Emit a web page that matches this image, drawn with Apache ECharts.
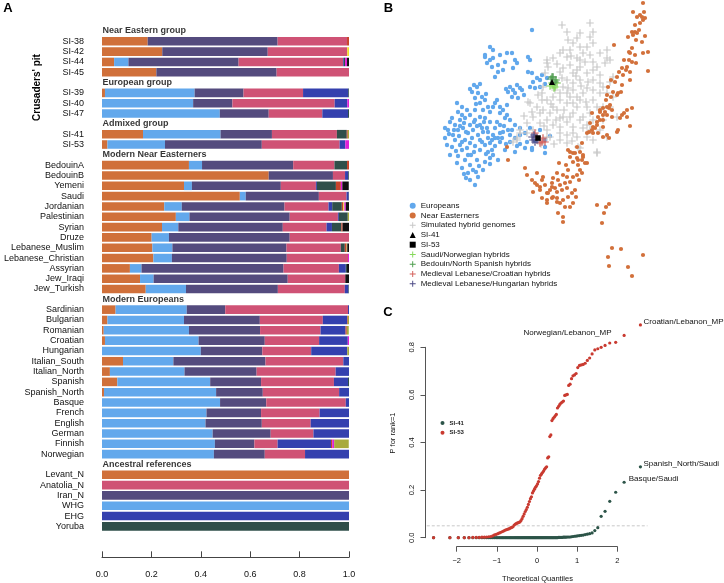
<!DOCTYPE html>
<html>
<head>
<meta charset="utf-8">
<script src="https://cdn.jsdelivr.net/npm/echarts@6/dist/echarts.min.js"></script>
<style>
html, body { margin: 0; padding: 0; background: #fff; }
#main { width: 724px; height: 583px; }
</style>
</head>
<body>
<div id="main"></div>
<script>
// ---------- A: ancestry proportions ----------
const groupTitles = ['Near Eastern group', 'European group', 'Admixed group',
  'Modern Near Easterners', 'Modern Europeans', 'Ancestral references'];
const groupRows = [
  ['SI-38', 'SI-42', 'SI-44', 'SI-45'],
  ['SI-39', 'SI-40', 'SI-47'],
  ['SI-41', 'SI-53'],
  ['BedouinA', 'BedouinB', 'Yemeni', 'Saudi', 'Jordanian', 'Palestinian', 'Syrian', 'Druze',
   'Lebanese_Muslim', 'Lebanese_Christian', 'Assyrian', 'Jew_Iraqi', 'Jew_Turkish'],
  ['Sardinian', 'Bulgarian', 'Romanian', 'Croatian', 'Hungarian', 'Italian_South', 'Italian_North',
   'Spanish', 'Spanish_North', 'Basque', 'French', 'English', 'German', 'Finnish', 'Norwegian'],
  ['Levant_N', 'Anatolia_N', 'Iran_N', 'WHG', 'EHG', 'Yoruba']
];
const components = ['Levant_N', 'WHG', 'Iran_N', 'Anatolia_N', 'EHG', 'Yoruba', 'k7', 'k8', 'k9', 'k10', 'k11'];
const componentColors = ['#D0703A', '#62A8EC', '#544B7E', '#CF5275', '#3440AE', '#2F4F4A',
  '#C8442C', '#F0E12A', '#E020D8', '#A8AA3C', '#111111'];

// one value per sample row, same order as groupRows flattened
const levantN   = [0.185,0.244,0.049,0.220, 0.012,0,0, 0.166,0.022,
  0.352,0.675,0.332,0.558,0.252,0.299,0.243,0.201,0.204,0.208,0.113,0.154,0.177,
  0.055,0.022,0.007,0.012,0,0.085,0.032,0.062,0.008,0,0,0,0,0,0,
  1,0,0,0,0,0];
const whg       = [0,0,0.058,0, 0.363,0.369,0.477, 0.314,0.233,
  0.053,0,0.032,0.024,0.071,0.055,0.066,0.070,0.081,0.075,0.047,0.055,0.163,
  0.288,0.310,0.345,0.379,0.400,0.204,0.302,0.376,0.454,0.478,0.423,0.419,0.448,0.457,0.453,
  0,0,0,1,0,0];
const iranN     = [0.526,0.427,0.446,0.487, 0.198,0.159,0.198, 0.208,0.392,
  0.369,0.260,0.360,0.296,0.416,0.406,0.423,0.489,0.462,0.465,0.575,0.543,0.372,
  0.156,0.307,0.288,0.268,0.249,0.373,0.292,0.206,0.189,0.187,0.221,0.228,0.235,0.160,0.206,
  0,0,1,0,0,0];
const anatoliaN = [0.281,0.322,0.423,0.293, 0.241,0.414,0.217, 0.263,0.315,
  0.167,0.049,0.142,0.112,0.178,0.195,0.177,0.240,0.220,0.248,0.224,0.233,0.271,
  0.497,0.255,0.245,0.220,0.198,0.315,0.320,0.295,0.309,0.322,0.237,0.198,0.173,0.094,0.163,
  0,1,0,0,0,0];
const ehg       = [0,0,0.003,0, 0.183,0.051,0.104, 0,0.023,
  0,0.013,0.004,0.009,0.015,0.004,0.022,0,0,0,0.028,0,0.015,
  0.004,0.098,0.101,0.116,0.146,0.023,0.054,0.057,0.040,0.013,0.119,0.155,0.144,0.216,0.178,
  0,0,0,0,1,0];
const yoruba    = [0,0,0.005,0, 0.003,0,0.004, 0.040,0,
  0.051,0.003,0.077,0.001,0.039,0.036,0.038,0,0.016,0,0.005,0,0.002,
  0,0,0,0,0,0,0,0.004,0,0,0,0,0,0,0,
  0,0,0,0,0,1];
const k7        = [0.008,0,0,0, 0,0,0, 0.004,0,
  0.008,0,0.020,0,0.006,0,0.005,0,0.007,0,0,0,0,
  0,0.003,0.005,0,0,0,0,0,0,0,0,0,0,0.005,0,
  0,0,0,0,0,0];
const k8        = [0,0.007,0,0, 0,0,0, 0,0,
  0,0,0,0,0.004,0,0,0,0,0,0,0,0,
  0,0,0,0,0,0,0,0,0,0,0,0,0,0,0,
  0,0,0,0,0,0];
const k9        = [0,0,0.008,0, 0,0.007,0, 0,0.015,
  0,0,0.006,0,0.006,0,0,0,0,0.004,0,0,0,
  0,0,0,0.005,0,0,0,0,0,0,0,0,0,0.008,0,
  0,0,0,0,0,0];
const k10       = [0,0,0,0, 0,0,0, 0.005,0,
  0,0,0,0,0,0.005,0,0,0.003,0,0,0,0,
  0,0.005,0.008,0,0.007,0,0,0,0,0,0,0,0,0.059,0,
  0,0,0,0,0,0];
const k11       = [0,0,0.008,0, 0,0,0, 0,0,
  0,0,0.026,0,0.013,0,0.026,0,0.007,0,0.008,0.015,0,
  0,0,0,0,0,0,0,0,0,0,0,0,0,0,0,
  0,0,0,0,0,0];

// ---------- B: PCA-like projection (PC1, PC2 x1000) ----------
const europeans = [[-18,120],[-60,103],[-57,100],[-65,93],[-60,90],[-63,87],[-57,92],[-43,97],[-38,97],[-45,88],
  [-35,90],[-33,87],[-52,85],[-47,80],[-37,82],[-52,78],[-58,83],[-55,73],[-65,95],[-50,95],
  [-22,93],[-20,90],[-22,78],[-18,77],[-13,72],[-10,70],[-8,75],[-3,72],[-17,68],[-20,63],[-15,62],[-10,63],[-5,66],
  [-40,63],[-37,60],[-33,65],[-30,62],[-35,57],[-38,53],[-32,52],[-28,60],[-42,58],[-26,55],[-44,61],
  [-80,61],[-73,63],[-72,57],[-75,52],[-68,53],[-70,47],[-65,50],[-62,43],[-57,43],[-53,50],[-50,43],[-47,40],
  [-43,45],[-67,40],[-60,38],[-43,35],[-93,47],[-88,43],[-83,40],[-78,58],[-76,65],[-64,56],[-55,47],[-50,37],
  [-70,66],[-74,46],
  [-100,28],[-95,25],[-90,30],[-85,32],[-80,35],[-75,30],[-70,25],[-65,32],[-60,28],[-55,22],[-50,25],[-45,32],
  [-40,30],[-35,25],[-30,22],[-102,20],[-97,15],[-92,20],[-87,22],[-82,17],[-77,20],[-72,15],[-67,18],[-62,12],
  [-57,15],[-52,12],[-47,18],[-42,20],[-35,12],[-25,17],[-20,22],[-15,15],[-95,10],[-90,5],[-85,10],[-80,7],
  [-75,4],[-70,10],[-65,5],[-60,7],[-55,4],[-50,8],[-40,8],[-30,6],[-23,8],[-15,9],[-5,3],[-10,20],[-98,3],
  [-88,0],[-82,-5],[-76,-2],[-70,0],[-64,-4],[-58,0],[-45,0],[-35,-2],[-18,0],[-5,10],[0,14],[-105,12],[-103,5],
  [-92,-6],[-85,-10],[-80,-15],[-73,-10],[-65,-12],[-88,-18],[-82,-23],[-77,-20],[-93,-13],[-67,-20],[-60,-8],
  [-80,-30],[-75,-35],[-84,-28],[-72,-27],[-52,-10],[-88,35],[-80,25],[-18,2],[-5,-3],
  [-98,32],[-92,38],[-75,40],[-68,22],[-63,22],[-78,12],[-83,2],[-57,-5],[-50,17],[-40,15],[-105,22],[-100,-5],
  [-30,15],[-25,2],[-96,20],[-91,14],[-86,27],[-73,24],[-68,8],[-62,18],[-58,10],[-53,28],[-48,12],[-44,6],
  [-38,20],[-33,4],[-88,8],[-79,-5],[-71,-16],[-62,-2],[-55,12],[-46,24],[-101,16],[-94,-1],[-84,18],[-76,28],
  [-66,28],[-60,-14],[-86,-24],[-74,-22],[-70,33],[-90,24]];
const nearEasterners = [[93,147],[83,138],[90,135],[94,138],[87,133],[92,133],[95,132],[93,130],[85,125],[90,127],
  [82,118],[85,118],[87,117],[89,120],[83,115],[78,113],[86,110],[92,108],[95,114],[64,105],[82,102],[80,97],
  [79,98],[93,97],[98,98],[85,95],[74,90],[79,90],[82,88],[86,87],[77,83],[72,82],[76,80],[80,78],[69,78],
  [67,73],[73,75],[80,70],[72,65],[65,68],[61,70],[58,63],[63,58],[68,57],[71,58],[67,55],[61,53],[57,55],
  [56,50],[60,45],[53,42],[50,38],[57,43],[59,42],[62,40],[55,38],[53,35],[48,33],[57,35],[62,33],[72,35],
  [74,37],[77,40],[82,42],[70,32],[47,28],[50,30],[53,30],[43,23],[47,25],[42,20],[45,22],[39,18],[37,17],
  [43,17],[48,17],[53,13],[59,12],[67,18],[68,20],[80,24],[98,79],[42,37],[40,27],[50,40],[57,15],[53,23],[77,33],
  [27,3],[30,-2],[33,-7],[23,-3],[20,-7],[37,-13],[28,-10],[18,0],[32,7],[20,-2],[25,-3],[33,-5],[27,-8],
  [32,-10],[35,-13],[23,-12],[28,-15],[9,-13],[16,-15],[18,-20],[13,-25],[7,-23],[3,-28],[8,-30],[2,-33],
  [10,-35],[5,-38],[12,-40],[17,-38],[15,-33],[20,-32],[23,-27],[27,-25],[30,-20],[22,-43],[18,-47],[13,-50],
  [7,-48],[10,-53],[15,-57],[8,-63],[13,-67],[13,-72],[20,-57],[23,-53],[26,-47],[47,-55],[56,-57],[59,-54],
  [54,-63],[52,-73],[62,-98],[71,-99],[58,-107],[59,-116],[78,-117],[82,-126],[93,-105],[32,-23],[29,-30],
  [25,-40],[17,-27],[3,-47],[0,-40],[-17,-42],[-23,-25],[-13,-23],[-8,-30],[-5,-35],[-10,-40],[-3,-43],[2,-48],
  [7,-52],[-3,-50],[-13,-35],[-18,-30],[-25,-18],[7,-42],[2,-37],[-43,3],[-42,-10],[-7,-27],[-15,-33],[-10,-37],
  [-2,-43],[-8,-48],[-3,-53]];
const hybrids = [[12,125],[40,127],[17,118],[30,117],[23,107],[37,103],[10,97],[3,92],[-3,87],[17,93],[27,92],
  [40,95],[50,97],[57,92],[55,87],[30,83],[43,80],[23,77],[17,70],[30,70],[43,70],[50,67],[60,68],[23,60],
  [37,62],[10,57],[-3,50],[-13,43],[-20,47],[-10,37],[3,43],[17,47],[30,50],[43,50],[23,37],[40,37],[10,32],
  [-3,30],[-23,27],[-30,20],[-23,17],[-17,20],[-3,20],[10,23],[23,23],[37,25],[0,13],[10,10],[17,15],[27,13],
  [-33,12],[-37,8],[43,10],[47,-3],[30,2],[57,13],[50,20],[67,33],[63,53],[57,57],[50,57],[3,73],[7,67],[13,63],
  [20,53],[27,43],[33,33],[13,33],[7,40],[0,37],[-7,40],[-17,33],[-10,27],[3,25],[17,28],[30,30],[40,20],
  [23,17],[10,17],[-3,13],[13,100],[20,100],[33,97],[43,88],[30,90],[20,85],[13,82],[27,80],[37,77],[50,75],
  [10,78],[23,67],[33,57],[43,60],[17,57],[3,53],[-8,50],[10,50],[23,47],[37,43],[47,43],[53,43],[60,43],
  [43,30],[53,30],[17,7],[37,13],[-7,63],[-8,57],[40,113],[43,118],[27,112],[18,110],[30,103],[43,107],[57,100],
  [60,90],[63,73],[53,63],[-3,90],[-2,83],[-22,48],[-30,17],[-33,10],[47,-2],[28,3],
  [7,86],[21,94],[35,88],[47,83],[-5,77],[12,72],[26,74],[38,68],[5,60],[18,62],[31,64],[-12,55],[1,46],
  [14,40],[27,53],[36,48],[-18,38],[-6,24],[6,30],[20,33],[33,22],[-26,34],[-14,12],[4,6],[22,9],[-9,6]];
const saudiNorwegian = [[3,65],[5,63],[0,64],[7,67],[4,62],[2,67]];
const bedouinNSpanish = [[3,73],[6,70],[1,71],[5,68],[2,73]];
const lebCroatian = [[-8,8],[-5,8],[-13,13],[-10,7],[-15,17],[-7,12]];
const lebHungarian = [[-17,10],[-18,13],[-15,8],[-16,15],[-13,10]];
const si41Pos = [[2,68]];
const si53Pos = [[-12,12]];

// ---------- C: QQ plot of P for rank=1 ----------
const theoQuantiles = [-2.576,-2.170,-1.960,-1.812,-1.695,-1.598,-1.514,-1.440,-1.372,-1.311,-1.254,-1.200,
  -1.150,-1.103,-1.058,-1.015,-0.974,-0.935,-0.896,-0.860,-0.824,-0.789,-0.755,-0.722,-0.690,-0.659,-0.628,
  -0.598,-0.568,-0.539,-0.510,-0.482,-0.454,-0.426,-0.399,-0.372,-0.345,-0.319,-0.292,-0.266,-0.240,-0.215,
  -0.189,-0.164,-0.138,-0.113,-0.088,-0.063,-0.038,-0.013,0.013,0.038,0.063,0.088,0.113,0.138,0.164,0.189,
  0.215,0.240,0.266,0.292,0.319,0.345,0.372,0.399,0.426,0.454,0.482,0.510,0.539,0.568,0.598,0.628,0.659,
  0.690,0.722,0.755,0.789,0.824,0.860,0.896,0.935,0.974,1.015,1.058,1.103,1.150,1.200,1.254,1.311,1.372,
  1.440,1.514,1.598,1.695,1.812,1.960,2.170,2.576];
const pSI53 = [0,0,0,0,0,0.001,0.001,0.001,0.002,0.002,0.003,0.004,0.005,0.008,0.012,0.014,0.017,0.020,0.023,
  0.026,0.029,0.032,0.034,0.036,0.038,0.041,0.043,0.046,0.053,0.057,0.060,0.062,0.064,0.066,0.072,0.080,0.090,
  0.100,0.110,0.118,0.128,0.140,0.152,0.164,0.172,0.188,0.196,0.204,0.212,0.218,
  0.226,0.236,0.250,0.262,0.268,0.274,0.280,0.288,0.294,0.298,0.335,0.340,0.425,0.432,0.492,0.500,0.506,0.512,
  0.518,0.545,0.552,0.560,0.566,0.570,0.574,0.598,0.600,0.602,0.640,0.645,0.668,0.680,0.684,0.690,0.715,0.724,
  0.726,0.728,0.733,0.745,0.755,0.772,0.789,0.794,0.800,0.808,0.818,0.821,0.850,0.894];
const pSI41 = [0,0,0,0,0,0,0,0,0,0,0,0,0,0,0,0,0,0,0,0,0,0,0,0,0,0,0,0,0,0,0,0,0,0,0,0,0,0,0,0,
  0,0,0,0,0,0,0,0,0,0,0,0,0,0,0,0,0,0,0,0,0,0,0,0,0,0,0,0,0,0,
  0.001,0.001,0.001,0.001,0.002,0.002,0.002,0.003,0.003,0.003,
  0.004,0.005,0.006,0.007,0.008,0.009,0.010,0.011,0.013,0.015,0.017,0.020,
  0.030,0.042,0.090,0.111,0.153,0.191,0.233,0.298];
const pThreshold = 0.05;
const labels41 = [[98, 'Basque/Saudi', 'right', 3], [99, 'Spanish_North/Saudi', 'right', 1.5]];
const labels53 = [[98, 'Norwegian/Lebanon_MP', 'left', 11], [99, 'Croatian/Lebanon_MP', 'right', 1.5]];

const FONT = '"Liberation Sans", Arial, Helvetica, sans-serif';
const CROSS = 'path://M4.2,0H5.8V4.2H10V5.8H5.8V10H4.2V5.8H0V4.2H4.2Z';

// build panel A categories
const cats = [];
const headerPts = [];
groupTitles.forEach((t, g) => {
  cats.push('#' + g);
  headerPts.push({ name: t, value: [0, '#' + g] });
  groupRows[g].forEach(r => cats.push(r));
});
const sampleNames = groupRows.flat();
const compData = [levantN, whg, iranN, anatoliaN, ehg, yoruba, k7, k8, k9, k10, k11];

const barSeries = components.map((c, k) => ({
  type: 'bar', name: c, stack: 'anc', xAxisIndex: 0, yAxisIndex: 0,
  barWidth: 8.6, silent: true,
  itemStyle: { color: componentColors[k] },
  data: cats.map(cat => {
    const i = sampleNames.indexOf(cat);
    return i < 0 ? '-' : compData[k][i];
  })
}));

function qqData(vals, labels) {
  return theoQuantiles.map((q, i) => {
    const lab = labels.find(l => l[0] === i);
    if (!lab) return [q, vals[i]];
    return {
      value: [q, vals[i]],
      label: { show: true, formatter: lab[1], position: lab[2], distance: lab[3],
        offset: [0, -3], fontSize: 8, color: '#111', fontFamily: FONT }
    };
  });
}

function scatterB(name, data, symbol, size, color, z) {
  return { type: 'scatter', name: name, xAxisIndex: 1, yAxisIndex: 1, data: data,
    symbol: symbol, symbolSize: size, itemStyle: { color: color, opacity: 1 }, z: z, silent: true };
}

const chart = echarts.init(document.getElementById('main'));
const option = {
  backgroundColor: '#fff',
  animation: false,
  textStyle: { fontFamily: FONT },
  grid: [
    { left: 102, top: 25.84, width: 247, height: 505.7 },
    { left: 400, top: 0, width: 300, height: 300 },
    { left: 456.7, top: 347.3, width: 160.6, height: 190.4 },
    // frame of panel C: holds the y axis and the p = 0.05 reference line
    { left: 425, top: 347.3, width: 222.5, height: 190.4 }
  ],
  xAxis: [
    { gridIndex: 0, type: 'value', min: 0, max: 1, interval: 0.2, offset: 25.8,
      axisLine: { show: true, onZero: false, lineStyle: { color: '#444', width: 1 } },
      axisTick: { show: true, inside: true, length: 6, lineStyle: { color: '#444' } },
      axisLabel: { fontSize: 9, color: '#111', margin: 13, formatter: v => v.toFixed(1) },
      splitLine: { show: false } },
    { gridIndex: 1, type: 'value', min: -150, max: 150, show: false },
    { gridIndex: 2, type: 'value', min: -2, max: 2, interval: 1, offset: 9,
      axisLine: { show: true, onZero: false, lineStyle: { color: '#555', width: 1 } },
      axisTick: { show: true, length: 5, lineStyle: { color: '#555' } },
      axisLabel: { fontSize: 7.5, color: '#111', margin: 10.5,
        formatter: v => v < 0 ? '\u2212' + (-v) : String(v) },
      splitLine: { show: false } },
    { gridIndex: 3, type: 'value', min: 0, max: 1, show: false }
  ],
  yAxis: [
    { gridIndex: 0, type: 'category', data: cats, inverse: true,
      axisLine: { show: false }, axisTick: { show: false },
      axisLabel: { interval: 0, fontSize: 9, color: '#111', margin: 18,
        formatter: v => v[0] === '#' ? '' : v } },
    { gridIndex: 1, type: 'value', min: -150, max: 150, show: false },
    { gridIndex: 2, type: 'value', min: 0, max: 0.8, show: false },
    { gridIndex: 3, type: 'value', min: 0, max: 0.8, interval: 0.2,
      axisLine: { show: true, onZero: false, lineStyle: { color: '#555', width: 1 } },
      axisTick: { show: true, length: 4.5, lineStyle: { color: '#555' } },
      axisLabel: { fontSize: 7.5, color: '#111', rotate: 90, margin: 9, formatter: v => v.toFixed(1) },
      splitLine: { show: false } }
  ],
  legend: [
    { orient: 'vertical', left: 404.7, top: 196.7, itemWidth: 6, itemHeight: 6, itemGap: 1.75,
      selectedMode: false,
      textStyle: { fontSize: 8, lineHeight: 8, color: '#111', fontFamily: FONT },
      data: ['Europeans', 'Near Easterners', 'Simulated hybrid genomes', 'SI-41', 'SI-53',
        'Saudi/Norwegian hybrids', 'Bedouin/North Spanish hybrids',
        'Medieval Lebanese/Croatian hybrids', 'Medieval Lebanese/Hungarian hybrids'] },
    { orient: 'vertical', left: 435.5, top: 415, itemWidth: 4, itemHeight: 4, itemGap: 3.7,
      selectedMode: false,
      textStyle: { fontSize: 6, lineHeight: 6, fontWeight: 'bold', color: '#222', fontFamily: FONT },
      data: [{ name: 'SI-41 ', icon: 'circle' }, { name: 'SI-53 ', icon: 'circle' }] }
  ],
  graphic: [
    { type: 'text', x: 8, y: 8, style: { text: 'A', font: 'bold 13px ' + FONT, fill: '#000', align: 'center', verticalAlign: 'middle' } },
    { type: 'text', x: 388.5, y: 8, style: { text: 'B', font: 'bold 13px ' + FONT, fill: '#000', align: 'center', verticalAlign: 'middle' } },
    { type: 'text', x: 388, y: 312, style: { text: 'C', font: 'bold 13px ' + FONT, fill: '#000', align: 'center', verticalAlign: 'middle' } },
    { type: 'text', x: 37, y: 87.5, rotation: Math.PI / 2,
      style: { text: "Crusaders' pit", font: 'bold 10px ' + FONT, fill: '#000', align: 'center', verticalAlign: 'middle' } },
    { type: 'text', x: 393, y: 433, rotation: Math.PI / 2,
      style: { text: 'P for rank=1', font: '7.5px ' + FONT, fill: '#111', align: 'center', verticalAlign: 'middle' } },
    { type: 'text', x: 537.5, y: 579.3,
      style: { text: 'Theoretical Quantiles', font: '7.5px ' + FONT, fill: '#111', align: 'center', verticalAlign: 'middle' } }
  ],
  series: [
    ...barSeries,
    { type: 'scatter', xAxisIndex: 0, yAxisIndex: 0, data: headerPts, symbolSize: 1, silent: true,
      itemStyle: { color: 'rgba(0,0,0,0)' },
      label: { show: true, position: 'right', distance: 0, formatter: '{b}', fontSize: 9,
        fontWeight: 'bold', color: '#000', fontFamily: FONT } },

    scatterB('Europeans', europeans, 'circle', 4.4, '#62A8EC', 2),
    scatterB('Simulated hybrid genomes', hybrids, CROSS, 7.5, '#C8C8C8', 3),
    scatterB('Near Easterners', nearEasterners, 'circle', 4.2, '#D2703A', 4),
    scatterB('Saudi/Norwegian hybrids', saudiNorwegian, CROSS, 7.5, '#86D95A', 5),
    scatterB('Bedouin/North Spanish hybrids', bedouinNSpanish, CROSS, 7.5, '#4E9E4E', 5),
    scatterB('Medieval Lebanese/Croatian hybrids', lebCroatian, CROSS, 7.5, '#D4605A', 5),
    scatterB('Medieval Lebanese/Hungarian hybrids', lebHungarian, CROSS, 7.5, '#4C4A86', 5),
    scatterB('SI-41', si41Pos, 'triangle', 6, '#000', 6),
    scatterB('SI-53', si53Pos, 'rect', 5.5, '#000', 6),

    { type: 'line', xAxisIndex: 3, yAxisIndex: 3, silent: true, symbol: 'none', z: 2,
      lineStyle: { type: [3, 2], color: '#BBBBBB', width: 0.8 },
      data: [[0.008, pThreshold], [1, pThreshold]] },
    { type: 'scatter', name: 'SI-41 ', xAxisIndex: 2, yAxisIndex: 2, clip: false, silent: true,
      symbolSize: 3.2, itemStyle: { color: '#2C5448', opacity: 1 }, z: 3,
      data: qqData(pSI41, labels41) },
    { type: 'scatter', name: 'SI-53 ', xAxisIndex: 2, yAxisIndex: 2, clip: false, silent: true,
      symbolSize: 3.2, itemStyle: { color: '#C93A30', opacity: 1 }, z: 4,
      data: qqData(pSI53, labels53) }
  ]
};
chart.setOption(option);
</script>
</body>
</html>
